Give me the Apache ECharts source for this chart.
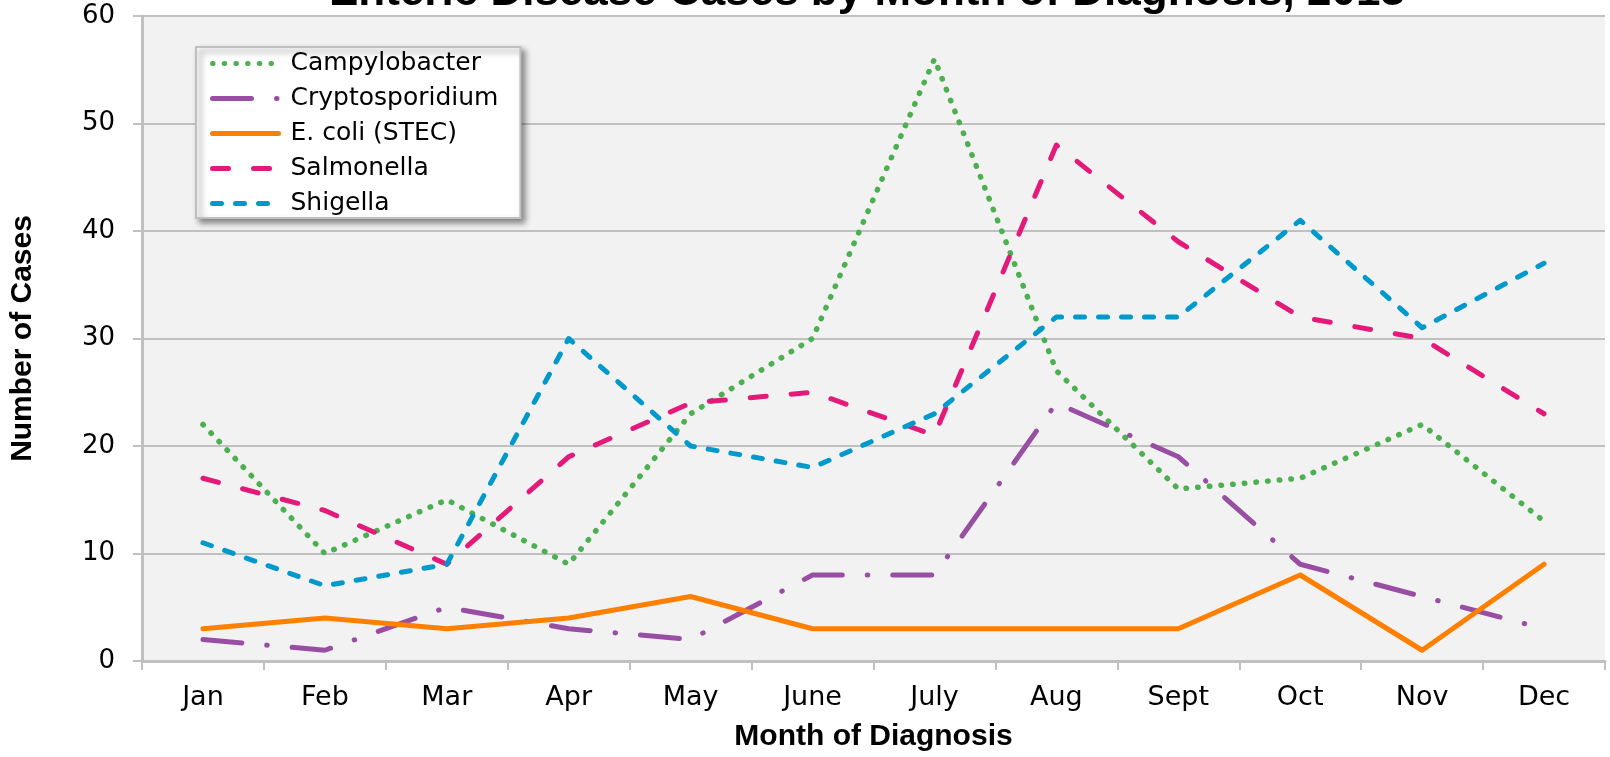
<!DOCTYPE html>
<html lang="en">
<head>
    <meta charset="UTF-8">
    <title>Enteric Disease Cases by Month of Diagnosis, 2013</title>
    <script src="https://cdn.jsdelivr.net/npm/echarts@6/dist/echarts.min.js"></script>
    <style>
        html, body { margin: 0; padding: 0; background: #fff; }
        #chart { width: 1610px; height: 757px; }
    </style>
</head>
<body>
<div id="chart"></div>
<script type="text/javascript">
    var months = ['Jan', 'Feb', 'Mar', 'Apr', 'May', 'June', 'July', 'Aug', 'Sept', 'Oct', 'Nov', 'Dec'];
    var campylobacter = [22, 10, 15, 9, 23, 30, 56, 27, 16, 17, 22, 13];
    var cryptosporidium = [2, 1, 5, 3, 2, 8, 8, 24, 19, 9, 6, 3];
    var ecoli = [3, 4, 3, 4, 6, 3, 3, 3, 3, 8, 1, 9];
    var salmonella = [17, 14, 9, 19, 24, 25, 21, 48, 39, 32, 30, 23];
    var shigella = [11, 7, 9, 30, 20, 18, 23, 32, 32, 41, 31, 37];

    var labelFont = 'Verdana, "DejaVu Sans", sans-serif';
    var boldFont = '"Liberation Sans", Arial, sans-serif';

    function lineSeries(name, data, color, width, dash) {
        return {
            name: name,
            type: 'line',
            data: data,
            symbol: 'none',
            lineStyle: {
                color: color,
                width: width,
                type: dash,
                cap: 'round',
                join: 'round'
            },
            itemStyle: { color: color }
        };
    }

    var chart = echarts.init(document.getElementById('chart'));
    chart.setOption({
        animation: false,
        backgroundColor: '#ffffff',
        title: {
            text: 'Enteric Disease Cases by Month of Diagnosis, 2013',
            left: 324,
            top: -34,
            textStyle: {
                fontFamily: boldFont,
                fontWeight: 'bold',
                fontSize: 44,
                color: '#000'
            }
        },
        legend: {
            orient: 'vertical',
            left: 196,
            top: 47,
            padding: [4, 22, 2, 14],
            itemGap: 10,
            itemWidth: 66,
            itemHeight: 24,
            backgroundColor: '#ffffff',
            borderColor: '#bfbfbf',
            borderWidth: 2,
            shadowColor: 'rgba(0,0,0,0.45)',
            shadowBlur: 6,
            shadowOffsetX: 4,
            shadowOffsetY: 4,
            itemStyle: { opacity: 0 },
            lineStyle: { width: 5 },
            textStyle: {
                fontFamily: labelFont,
                fontSize: 25,
                color: '#000',
                padding: [0, 0, 0, 7]
            },
            data: ['Campylobacter', 'Cryptosporidium', 'E. coli (STEC)', 'Salmonella', 'Shigella']
        },
        grid: {
            left: 141,
            right: 5,
            top: 16,
            bottom: 96,
            show: true,
            backgroundColor: '#f2f2f2',
            borderWidth: 0
        },
        xAxis: {
            type: 'category',
            data: months,
            boundaryGap: true,
            name: 'Month of Diagnosis',
            nameLocation: 'middle',
            nameGap: 61,
            nameTextStyle: {
                fontFamily: boldFont,
                fontWeight: 'bold',
                fontSize: 30,
                color: '#000'
            },
            axisLine: { lineStyle: { color: '#c0c0c0', width: 3 } },
            axisTick: { show: true, length: 9, lineStyle: { color: '#c0c0c0', width: 2 } },
            axisLabel: {
                margin: 23,
                fontFamily: labelFont,
                fontSize: 27,
                color: '#000'
            },
            splitLine: { show: false }
        },
        yAxis: {
            type: 'value',
            min: 0,
            max: 60,
            interval: 10,
            name: 'Number of Cases',
            nameLocation: 'middle',
            nameGap: 104,
            nameRotate: 90,
            nameTextStyle: {
                fontFamily: boldFont,
                fontWeight: 'bold',
                fontSize: 30,
                color: '#000'
            },
            axisLine: { show: true, lineStyle: { color: '#c0c0c0', width: 3 } },
            axisTick: { show: true, length: 9, lineStyle: { color: '#c0c0c0', width: 2 } },
            axisLabel: {
                margin: 27,
                fontFamily: labelFont,
                fontSize: 26,
                color: '#000'
            },
            splitLine: { lineStyle: { color: '#c0c0c0', width: 2 } }
        },
        series: [
            lineSeries('Campylobacter', campylobacter, '#4caf50', 5.5, [0.5, 11.2]),
            lineSeries('Cryptosporidium', cryptosporidium, '#984ea3', 5, [39, 25, 0.5, 25]),
            lineSeries('E. coli (STEC)', ecoli, '#ff7f00', 5, 'solid'),
            lineSeries('Salmonella', salmonella, '#e31a7a', 5, [16, 25]),
            lineSeries('Shigella', shigella, '#0099cc', 5, [9, 14])
        ]
    });
</script>
</body>
</html>
